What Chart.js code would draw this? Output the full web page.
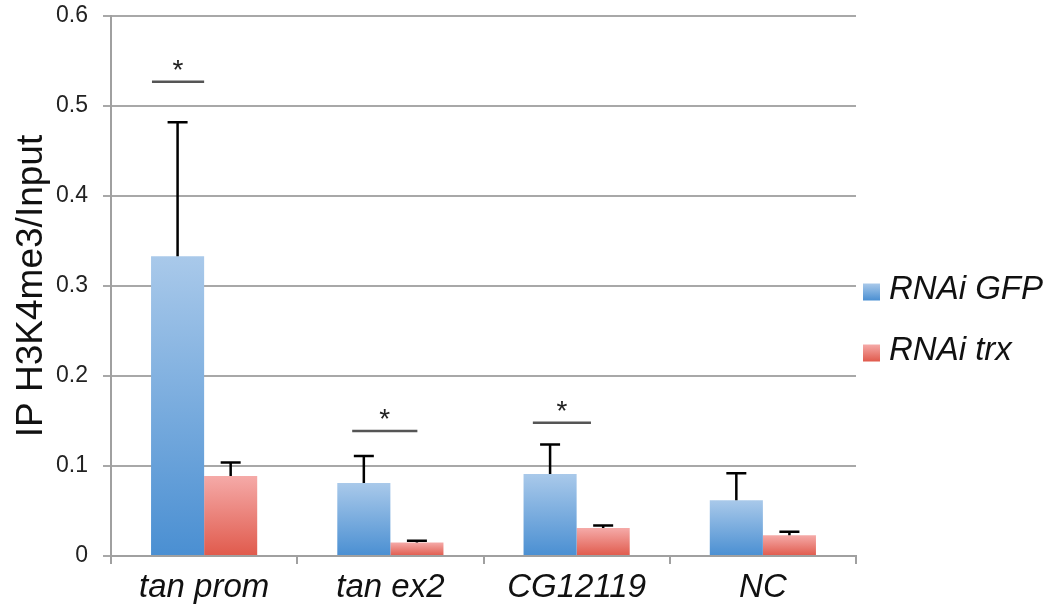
<!DOCTYPE html>
<html>
<head>
<meta charset="utf-8">
<script src="https://cdn.jsdelivr.net/npm/chart.js@4.4.1/dist/chart.umd.min.js"></script>
<style>
  html, body { margin: 0; padding: 0; background: #ffffff; }
  #wrap { width: 1052px; height: 605px; position: relative; }
</style>
</head>
<body>
<div id="wrap"><canvas id="c" width="1052" height="605"></canvas></div>
<script>
// ---- data ----
const categories = ['tan prom', 'tan ex2', 'CG12119', 'NC'];
const seriesNames = ['RNAi GFP', 'RNAi trx'];
const gfpValues = [0.333, 0.081, 0.091, 0.062];
const gfpErrors = [0.149, 0.030, 0.033, 0.030];
const trxValues = [0.089, 0.015, 0.031, 0.023];
const trxErrors = [0.015, 0.002, 0.003, 0.004];
const yTickValues = [0, 0.1, 0.2, 0.3, 0.4, 0.5, 0.6];
const sigCategories = [0, 1, 2];
const sigLevels = [0.527, 0.139, 0.148];
const sigLabels = ['*', '*', '*'];

// annotation geometry (category units, relative to category centre)
const sigSpans = [[-0.28, 0.0], [-0.205, 0.145], [-0.235, 0.077]];

const FONT = '"Liberation Sans", Arial, Helvetica, sans-serif';

function barGradient(topCol, botCol) {
  return function (ctx) {
    const chart = ctx.chart;
    const y = chart.scales && chart.scales.y;
    if (!chart.chartArea || !y || ctx.raw === undefined) return botCol;
    const yTop = y.getPixelForValue(ctx.raw);
    const yBase = y.getPixelForValue(0);
    if (!isFinite(yTop) || !isFinite(yBase) || yTop === yBase) return botCol;
    const g = chart.ctx.createLinearGradient(0, yTop, 0, yBase);
    g.addColorStop(0, topCol);
    g.addColorStop(1, botCol);
    return g;
  };
}

const errorArrays = [gfpErrors, trxErrors];

const errorBarPlugin = {
  id: 'errorBars',
  afterDatasetsDraw(chart) {
    const ctx = chart.ctx;
    const y = chart.scales.y;
    ctx.save();
    ctx.strokeStyle = '#000';
    ctx.lineWidth = 2.5;
    chart.data.datasets.forEach((ds, di) => {
      const meta = chart.getDatasetMeta(di);
      meta.data.forEach((bar, i) => {
        const v = ds.data[i];
        const e = errorArrays[di][i];
        const yTop = y.getPixelForValue(v + e);
        ctx.beginPath();
        ctx.moveTo(bar.x, bar.y);
        ctx.lineTo(bar.x, yTop);
        ctx.moveTo(bar.x - 10, yTop);
        ctx.lineTo(bar.x + 10, yTop);
        ctx.stroke();
      });
    });
    // significance markers
    const x = chart.scales.x;
    ctx.strokeStyle = '#555';
    ctx.lineWidth = 2.5;
    ctx.fillStyle = '#222';
    ctx.font = '28px ' + FONT;
    ctx.textAlign = 'center';
    ctx.textBaseline = 'alphabetic';
    sigCategories.forEach((ci, k) => {
      const x0 = x.getPixelForValue(ci + sigSpans[k][0]);
      const x1 = x.getPixelForValue(ci + sigSpans[k][1]);
      const yy = y.getPixelForValue(sigLevels[k]);
      ctx.beginPath();
      ctx.moveTo(x0, yy);
      ctx.lineTo(x1, yy);
      ctx.stroke();
      ctx.fillText(sigLabels[k], (x0 + x1) / 2, yy - 3);
    });
    ctx.restore();
  }
};

const legendPlugin = {
  id: 'customLegend',
  afterDraw(chart) {
    const ctx = chart.ctx;
    const area = chart.chartArea;
    ctx.save();
    ctx.font = 'italic 33px ' + FONT;
    ctx.textAlign = 'left';
    ctx.textBaseline = 'middle';
    const boxX = area.right + 7;
    const rowY = [292, 353];
    chart.data.datasets.forEach((ds, i) => {
      const cy = rowY[i];
      const g = ctx.createLinearGradient(0, cy - 8.5, 0, cy + 8.5);
      g.addColorStop(0, ds.legendTop);
      g.addColorStop(1, ds.legendBot);
      ctx.fillStyle = g;
      ctx.fillRect(boxX, cy - 8.5, 17, 17);
      ctx.fillStyle = '#111';
      ctx.fillText(ds.label, boxX + 26, cy - 2);
    });
    ctx.restore();
  }
};

new Chart(document.getElementById('c'), {
  type: 'bar',
  data: {
    labels: categories,
    datasets: [
      {
        label: seriesNames[0],
        data: gfpValues,
        backgroundColor: barGradient('#a9c9ea', '#4a8fd2'),
        legendTop: '#a9c9ea', legendBot: '#4a8fd2',
        borderWidth: 0,
        categoryPercentage: 0.57,
        barPercentage: 1.0
      },
      {
        label: seriesNames[1],
        data: trxValues,
        backgroundColor: barGradient('#f5aaa8', '#e05a4c'),
        legendTop: '#f5aaa8', legendBot: '#e05a4c',
        borderWidth: 0,
        categoryPercentage: 0.57,
        barPercentage: 1.0
      }
    ]
  },
  options: {
    responsive: false,
    animation: false,
    devicePixelRatio: 1,
    layout: { padding: { left: 2, right: 196, top: 0, bottom: 0 } },
    plugins: {
      legend: { display: false },
      tooltip: { enabled: false }
    },
    scales: {
      x: {
        afterFit(scale) {
          scale.height = 49;
          scale.paddingLeft = 0;
          scale.paddingRight = 0;
        },
        grid: {
          offset: true,
          drawOnChartArea: false,
          drawTicks: true,
          tickLength: 8,
          color: '#a0a0a0',
          lineWidth: 2
        },
        border: { color: '#a0a0a0', width: 2 },
        ticks: {
          color: '#111',
          padding: 4,
          font: { family: FONT, size: 33, style: 'italic' }
        }
      },
      y: {
        min: 0,
        max: 0.6,
        afterBuildTicks(scale) {
          scale.ticks = yTickValues.map(v => ({ value: v }));
        },
        afterFit(scale) {
          scale.width = 109;
          scale.paddingTop = 16;
          scale.paddingBottom = 0;
        },
        grid: {
          color: '#a8a8a8',
          lineWidth: 2,
          tickLength: 8
        },
        border: { color: '#a0a0a0', width: 2 },
        ticks: {
          color: '#222',
          padding: 15,
          font: { family: FONT, size: 23 },
          callback: (v) => String(Math.round(v * 10) / 10)
        },
        title: {
          display: true,
          text: 'IP H3K4me3/Input',
          color: '#111',
          font: { family: FONT, size: 37 },
          padding: { top: 8, bottom: 2 }
        }
      }
    }
  },
  plugins: [errorBarPlugin, legendPlugin]
});
</script>
</body>
</html>
